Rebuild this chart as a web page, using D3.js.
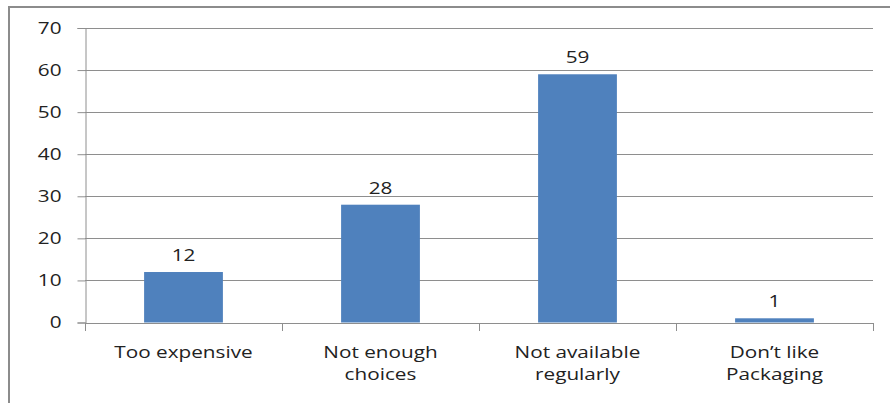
<!DOCTYPE html>
<html>
<head>
<meta charset="utf-8">
<script src="https://cdn.jsdelivr.net/npm/d3@7"></script>
<style>
  html, body { margin: 0; padding: 0; background: #fff; }
  svg { display: block; }
  text { font-family: "Open Sans", "Noto Sans", sans-serif; fill: #222; }
</style>
</head>
<body>
<div id="chart"></div>
<script>
// Reasons for not buying
const categories = [["Too expensive"], ["Not enough", "choices"], ["Not available", "regularly"], ["Don\u2019t like", "Packaging"]];
const values = [12, 28, 59, 1];
const yTicks = [0, 10, 20, 30, 40, 50, 60, 70];

const W = 890, H = 403;
const margin = { left: 85, right: 17, top: 28, bottom: 80.5 };
const FONT = 17, STRETCH = 1.22;   // wide label face

const svg = d3.select("#chart").append("svg")
  .attr("width", W).attr("height", H);

// outer frame
svg.append("rect")
  .attr("x", 9).attr("y", 7)
  .attr("width", W + 20).attr("height", H + 20)
  .attr("fill", "none").attr("stroke", "#8c8c8c").attr("stroke-width", 2);

const x = d3.scaleBand()
  .domain(d3.range(categories.length))
  .range([margin.left, W - margin.right])
  .paddingInner(0.6).paddingOuter(0.3);

const y = d3.scaleLinear()
  .domain([0, 70])
  .range([H - margin.bottom, margin.top]);

// gridlines
svg.append("g")
  .selectAll("line")
  .data(yTicks.filter(d => d > 0))
  .join("line")
  .attr("x1", margin.left).attr("x2", W - margin.right)
  .attr("y1", d => Math.round(y(d)) + 0.5).attr("y2", d => Math.round(y(d)) + 0.5)
  .attr("stroke", "#8e8e8e").attr("stroke-width", 1);

// y axis
const yAxis = svg.append("g")
  .attr("transform", `translate(${margin.left + 0.5},0)`)
  .call(d3.axisLeft(y).tickValues(yTicks).tickSize(8));
yAxis.select(".domain").attr("stroke", "#8e8e8e");
yAxis.selectAll(".tick line").attr("stroke", "#8e8e8e");
yAxis.selectAll(".tick text")
  .attr("x", 0)
  .attr("transform", `translate(-24,0) scale(${STRETCH},1)`)
  .attr("font-size", FONT).style("fill", "#222")
  .attr("font-family", "'Open Sans', sans-serif");

// x axis baseline with category separators
const band = (W - margin.right - margin.left) / categories.length;
const xAxisG = svg.append("g");
xAxisG.append("line")
  .attr("x1", margin.left).attr("x2", W - margin.right)
  .attr("y1", Math.round(y(0)) + 0.5).attr("y2", Math.round(y(0)) + 0.5)
  .attr("stroke", "#8e8e8e");
xAxisG.selectAll("line.sep")
  .data(d3.range(categories.length + 1))
  .join("line").attr("class", "sep")
  .attr("x1", i => Math.round(margin.left + i * band) + 0.5)
  .attr("x2", i => Math.round(margin.left + i * band) + 0.5)
  .attr("y1", Math.round(y(0))).attr("y2", Math.round(y(0)) + 8)
  .attr("stroke", "#8e8e8e");

// bars
svg.append("g")
  .selectAll("rect")
  .data(values)
  .join("rect")
  .attr("x", (d, i) => x(i))
  .attr("width", x.bandwidth())
  .attr("y", d => y(d))
  .attr("height", d => y(0) - y(d))
  .attr("fill", "#4f81bd");

// value labels
svg.append("g")
  .selectAll("text")
  .data(values)
  .join("text")
  .attr("transform", (d, i) => `translate(${x(i) + x.bandwidth() / 2},${y(d) - 11}) scale(${STRETCH},1)`)
  .attr("text-anchor", "middle")
  .attr("font-size", FONT)
  .text(d => d);

// category labels
const cat = svg.append("g")
  .selectAll("text")
  .data(categories)
  .join("text")
  .attr("transform", (d, i) => `translate(${margin.left + (i + 0.5) * band},358) scale(${STRETCH},1)`)
  .attr("text-anchor", "middle")
  .attr("font-size", FONT);
cat.selectAll("tspan")
  .data(d => d)
  .join("tspan")
  .attr("x", 0)
  .attr("dy", (d, i) => i === 0 ? 0 : 22)
  .text(d => d);
</script>
</body>
</html>
